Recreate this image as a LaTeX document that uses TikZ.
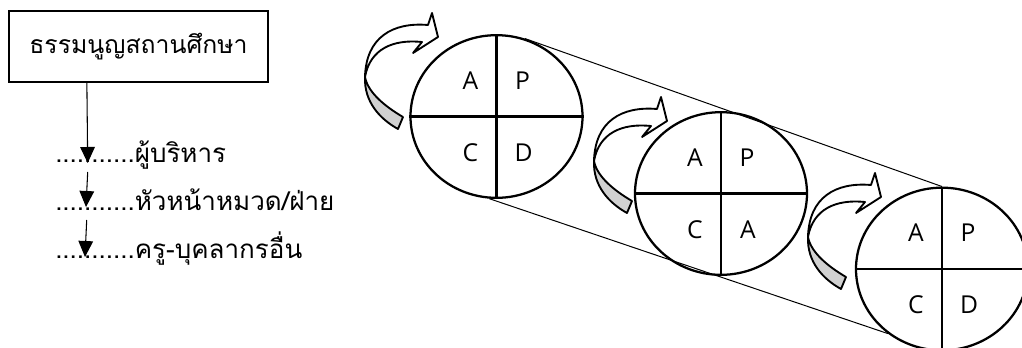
\documentclass[tikz,border=0pt]{standalone}
\usepackage{fontspec}
\newfontfamily\thaifont[Script=Thai]{Loma}
\newfontfamily\pdcafont{Open Sans}
\usetikzlibrary{arrows.meta,shapes.geometric,calc}

\begin{document}
\begin{tikzpicture}[x=0.75pt, y=-0.75pt, every node/.style={font=\thaifont\fontsize{19.5}{22}\selectfont}, >={Triangle[length=12pt, width=11pt]},
	pdca/.style={draw, ellipse, line width=1.7pt, minimum width=129pt, minimum height=122pt, inner sep=0pt},
	letter/.style={font=\pdcafont\fontsize{18.5}{22}\selectfont, inner sep=0pt},
	bandback/.style={draw, fill=black!18, line width=1.4pt, line join=round},
	bandfront/.style={draw, fill=white, line width=1.4pt, line join=round},
	turnarrow/.pic={
		\path[bandback] (-35,80) .. controls (-52,70) and (-70,56) .. (-73,40) .. controls (-74,65) and (-58,82) .. (-40,92) -- cycle;
		\path[bandfront] (-16,5) .. controls (-45,2) and (-68,12) .. (-73,40) .. controls (-72,0) and (-45,-15) .. (-10,-12) -- (-6,-24) -- (0,0) -- (-25,16) -- cycle;
	}]
	\useasboundingbox (0,0) rectangle (1022,347);
	\clip (0,0) rectangle (1022,347);
	% left: chain of responsibility
	\node[draw, line width=1.5pt, minimum width=194pt, minimum height=53pt, font=\thaifont\fontsize{18.6}{22}\selectfont] (charter) at (138.5,46.3) {ธรรมนูญสถานศึกษา};
	\node[anchor=base west, inner sep=0pt] (r1) at (55,162) {...........ผู้บริหาร};
	\node[anchor=base west, inner sep=0pt] (r2) at (55,210) {...........หัวหน้าหมวด/ฝ่าย};
	\node[anchor=base west, inner sep=0pt] (r3) at (55,258) {...........ครู-บุคลากรอื่น};
	\draw[->, line width=0.8pt] ($(charter.south west)+(78.7,0)$) -- ($(r1.base west)+(32.7,1)$);
	\draw[->, line width=0.8pt] ($(r1.base west)+(32.7,10)$) -- ($(r2.base west)+(31,-3)$);
	\draw[->, line width=0.8pt] ($(r2.base west)+(31.7,10)$) -- ($(r3.base west)+(30,-1)$);
	% right: PDCA cycles
	\node[pdca] (e1) at (496.5,116.5) {};
	\node[pdca] (e2) at (721,193.5) {};
	\node[pdca] (e3) at (942,269) {};
	\draw[line width=0.75pt] (e1.70) -- (e3.90);
	\draw[line width=0.75pt] (e1.265) -- (e3.230);
	\foreach \e/\last in {e1/D, e2/A, e3/D} {
		\draw[line width=1.7pt] (\e.north) -- (\e.south);
		\draw[line width=1.7pt] (\e.west) -- (\e.east);
		\node[letter] (\e-a) at ($(\e.center)+(-26,-36)$) {A};
		\node[letter] (\e-p) at ($(\e.center)+(26,-36)$) {P};
		\node[letter] (\e-c) at ($(\e.center)+(-26,36)$) {C};
		\node[letter] (\e-d) at ($(\e.center)+(27,36)$) {\last};
	}
	\pic at ($(e1.center)+(-58.5,-79.5)$) {turnarrow};
	\pic at ($(e2.center)+(-54,-72.5)$) {turnarrow};
	\pic at ($(e3.center)+(-61,-72)$) {turnarrow};
\end{tikzpicture}
\end{document}
